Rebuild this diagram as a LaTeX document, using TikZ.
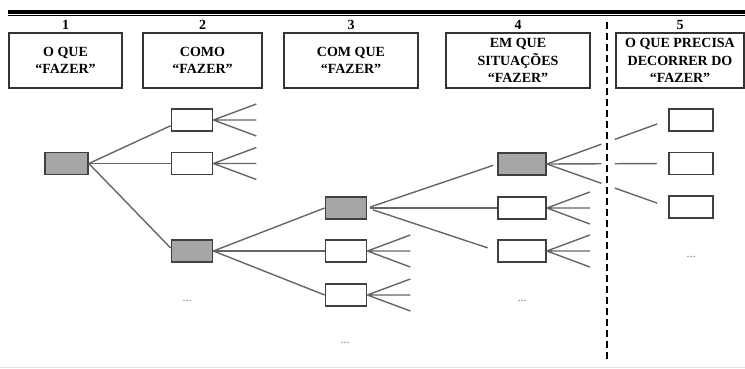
\documentclass[tikz,border=0pt]{standalone}
\usepackage{fontspec}
\setmainfont{Liberation Serif}
\usetikzlibrary{positioning,calc}

\begin{document}
\begin{tikzpicture}[x=1pt,y=-1pt,
    head/.style={draw=black!80, line width=1.8pt, minimum height=55pt, inner sep=0pt, align=center, font=\bfseries\fontsize{14}{17.5}\selectfont},
    num/.style={inner sep=1pt, font=\bfseries\fontsize{14}{15}\selectfont},
    leaf/.style={draw=black!75, line width=1.7pt, fill=white, minimum width=41pt, minimum height=22pt, inner sep=0pt},
    pick/.style={leaf, fill=black!35},
    link/.style={draw=black!60, line width=1.4pt},
    more/.style={inner sep=0pt, text=blue!20!black!55, font=\fontsize{12}{12}\selectfont}]
    \useasboundingbox (0,0) rectangle (745,369);

    % double rule on top
    \draw[line width=4pt] (8,12) -- (745,12);
    \draw[line width=1pt] (8,15.8) -- (745,15.8);

    % column heads
    \node[head, minimum width=113pt] (h1) at (65.5,60.5) {O QUE\\“FAZER”};
    \node[head, minimum width=119pt] (h2) at (202.5,60.5) {COMO\\“FAZER”};
    \node[head, minimum width=134pt] (h3) at (351,60.5) {COM QUE\\“FAZER”};
    \node[head, minimum width=144pt] (h4) at (518,60.5) {EM QUE\\SITUAÇÕES\\“FAZER”};
    \node[head, minimum width=128pt] (h5) at (680,60.5) {O QUE PRECISA\\DECORRER DO\\“FAZER”};
    \foreach \i in {1,...,5}
      \node[num, above=1pt of h\i] (n\i) {\i};

    \draw[line width=1.8pt, dash pattern=on 7pt off 4pt] (607,22) -- (607,360);

    % tree
    \node[pick, minimum width=43pt] (a) at (66.5,163.5) {};
    \node[leaf] (b1) at (192,120) {};
    \node[leaf] (b2) at (192,163.5) {};
    \node[pick] (b3) at (192,251) {};
    \node[pick] (c1) at (346,208) {};
    \node[leaf] (c2) at (346,251) {};
    \node[leaf] (c3) at (346,295) {};
    \node[pick, minimum width=48pt] (d1) at (522,164) {};
    \node[leaf, minimum width=48pt] (d2) at (522,208) {};
    \node[leaf, minimum width=48pt] (d3) at (522,251) {};
    \node[leaf, minimum width=44pt] (e1) at (691,120) {};
    \node[leaf, minimum width=44pt] (e2) at (691,163.5) {};
    \node[leaf, minimum width=44pt] (e3) at (691,207) {};

    \draw[link] (a.east) -- (b1.195);
    \draw[link] (a.east) -- (b2.west);
    \draw[link] (a.east) -- (b3.172);
    \draw[link] (b3.east) -- (c1.west);
    \draw[link] (b3.east) -- (c2.west);
    \draw[link] (b3.east) -- (c3.west);
    \draw[link, shorten <=3pt, shorten >=4pt] (c1.east) -- (d1.west);
    \draw[link, shorten <=3pt] (c1.east) -- (d2.west);
    \draw[link, shorten <=6pt, shorten >=10pt] (c1.east) -- (d3.west);

    \foreach \n in {b1,b2,c2,c3,d2,d3}
      \draw[link] (\n.east) -- ++(43,-16) (\n.east) -- ++(43,0) (\n.east) -- ++(43,16);

    % broken by the dashed line
    \foreach \e in {e1,e2,e3} {
      \draw[link] (d1.east) -- ($(d1.east)!0.45!(\e.west)$);
      \draw[link] ($(d1.east)!0.56!(\e.west)$) -- ($(d1.east)!0.91!(\e.west)$);
    }

    \node[more] (m1) at (187,301) {...};
    \node[more] (m2) at (345,343) {...};
    \node[more] (m3) at (522,301) {...};
    \node[more] (m4) at (691,257) {...};

    \draw[black!12, line width=1pt] (0,367.5) -- (745,367.5);
  \end{tikzpicture}
\end{document}
